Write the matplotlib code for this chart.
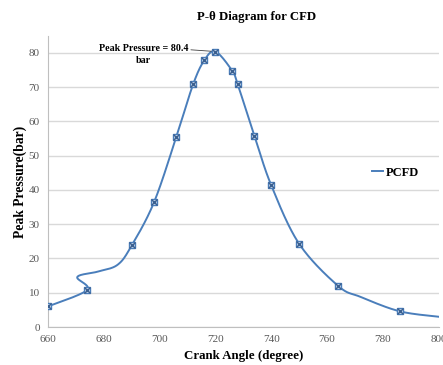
import numpy as np
import matplotlib
matplotlib.use("Agg")
import matplotlib.pyplot as plt

# Marked data points (crank angle in degrees, pressure in bar)
marker_angle = [660, 674, 690, 698, 706, 712, 716, 720, 726, 728, 734, 740, 750, 764, 786]
marker_pressure = [6.0, 10.8, 23.8, 36.4, 55.5, 70.8, 77.8, 80.4, 74.8, 70.8, 55.8, 41.4, 24.3, 12.0, 4.6]

# Points the smoothed line passes through (includes unmarked points)
line_angle = [660, 674, 670.5, 678, 685, 690, 698, 706, 712, 716, 720, 726, 728, 734, 740, 750, 764, 772, 786, 800]
line_pressure = [6.0, 10.8, 14.6, 16.2, 18.2, 23.8, 36.4, 55.5, 70.8, 77.8, 80.4, 74.8, 70.8, 55.8, 41.4, 24.3, 12.0, 8.8, 4.6, 3.0]

x_ticks = [660, 680, 700, 720, 740, 760, 780, 800]
y_ticks = [0, 10, 20, 30, 40, 50, 60, 70, 80]

BLUE = "#4A7EBB"
SERIF = ["Liberation Serif", "DejaVu Serif"]


def smooth(xs, ys, sx=2.79, sy=3.43, n=30):
    """Excel-like Bezier smoothing computed in screen-like space."""
    P = np.column_stack([np.asarray(xs) * sx, np.asarray(ys) * sy])
    out = []
    m = len(P)
    for i in range(m - 1):
        p0 = P[i - 1] if i > 0 else P[i]
        p1 = P[i]
        p2 = P[i + 1]
        p3 = P[i + 2] if i + 2 < m else P[i + 1]
        c1 = p1 + (p2 - p0) / 6.0
        c2 = p2 - (p3 - p1) / 6.0
        t = np.linspace(0, 1, n)[:, None]
        seg = ((1 - t) ** 3) * p1 + 3 * ((1 - t) ** 2) * t * c1 + 3 * (1 - t) * t ** 2 * c2 + t ** 3 * p2
        out.append(seg if i == 0 else seg[1:])
    pts = np.vstack(out)
    return pts[:, 0] / sx, pts[:, 1] / sy


fig = plt.figure(figsize=(4.43, 3.65), dpi=100)
ax = fig.add_axes([0.1084, 0.1041, 0.8816, 0.7979])

sxv, syv = smooth(line_angle, line_pressure)
ax.plot(sxv, syv, color=BLUE, lw=1.4, label="PCFD", zorder=3)
ax.plot(marker_angle, marker_pressure, ls="none", marker="s", ms=5,
        mfc="#C9D7EA", mec=BLUE, mew=1.0, zorder=4)
ax.plot(marker_angle, marker_pressure, ls="none", marker="x", ms=5,
        mec="#3A5F8F", mew=1.0, zorder=5)

ax.set_xlim(660, 800)
ax.set_ylim(0, 85)
ax.set_xticks(x_ticks)
ax.set_yticks(y_ticks)
ax.grid(axis="y", color="#D9D9D9", lw=1.0)
ax.set_axisbelow(True)
for s in ["top", "right"]:
    ax.spines[s].set_visible(False)
for s in ["left", "bottom"]:
    ax.spines[s].set_color("#BFBFBF")
ax.tick_params(length=0, labelsize=8, labelcolor="#595959", pad=6)
for lab in ax.get_xticklabels() + ax.get_yticklabels():
    lab.set_family(SERIF)

ax.set_xlabel("Crank Angle (degree)", fontsize=9.3, fontweight="bold", family=SERIF, labelpad=4)
ax.set_ylabel("Peak Pressure(bar)", fontsize=9.8, fontweight="bold", family=SERIF, labelpad=1)
fig.text(0.58, 0.953, "P-θ Diagram for CFD", ha="center", va="center",
         fontsize=9.2, fontweight="bold", family=SERIF)

ax.annotate("Peak Pressure = 80.4\nbar", xy=(720, 80.4), xytext=(694.2, 79.6),
            ha="center", va="center", fontsize=7.2, fontweight="bold", family=SERIF,
            linespacing=1.45,
            arrowprops=dict(arrowstyle="-", color="#404040", lw=0.6,
                            shrinkA=0, shrinkB=3, relpos=(1.0, 0.72)))

leg = ax.legend(loc="center left", bbox_to_anchor=(0.83, 0.53), frameon=False,
                borderaxespad=0, borderpad=0,
                handlelength=0.9, handletextpad=0.2,
                prop={"family": SERIF, "weight": "bold", "size": 9})

fig.savefig("out.png", dpi=100)
